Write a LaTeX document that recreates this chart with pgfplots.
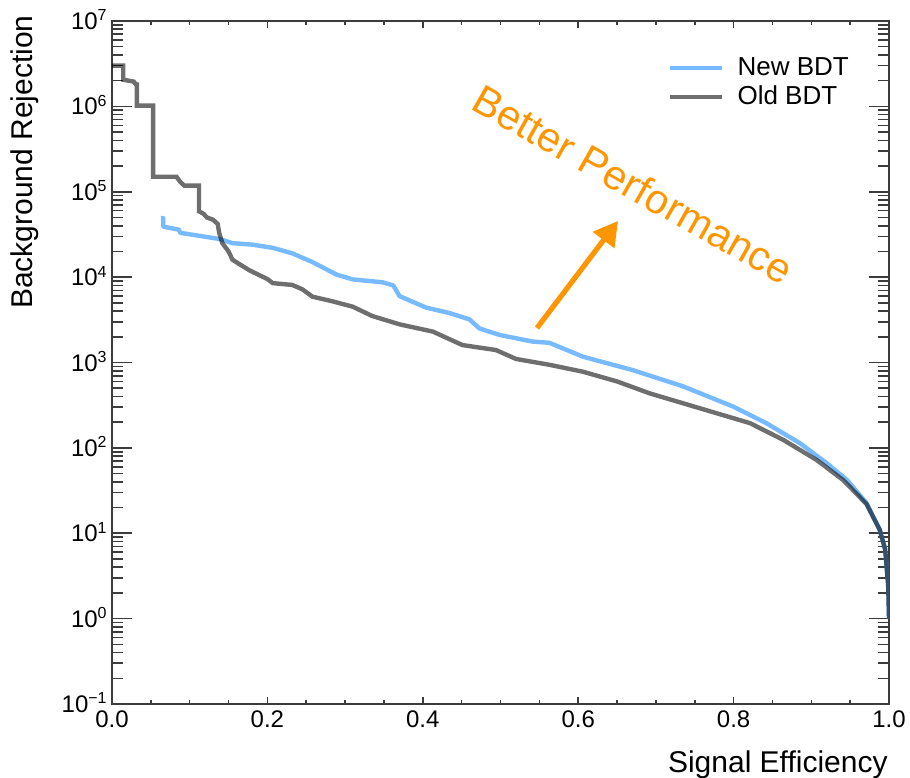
\documentclass[border=0pt]{standalone}
\usepackage{pgfplots}
\pgfplotsset{compat=1.18}
\usepackage{fontspec}
\setmainfont{Liberation Sans}
\usetikzlibrary{arrows.meta}
\definecolor{newbdt}{RGB}{120,186,255}
\definecolor{perf}{RGB}{255,150,0}
\definecolor{axgray}{RGB}{60,60,60}
\begin{document}
\begin{tikzpicture}
\useasboundingbox (-56pt,-36.5pt) rectangle (399pt,352pt);
\begin{axis}[
  scale only axis, width=388.5pt, height=341.5pt,
  at={(0pt,0pt)}, anchor=south west,
  xmin=0, xmax=1, ymode=log, ymin=0.1, ymax=1e7,
  xtick={0,0.2,0.4,0.6,0.8,1},
  xticklabels={0.0,0.2,0.4,0.6,0.8,1.0},
  minor x tick num=3,
  ytick={0.1,1,10,100,1000,10000,100000,1000000,10000000},
  yticklabels={10\textsuperscript{−1},10\textsuperscript{0},10\textsuperscript{1},10\textsuperscript{2},10\textsuperscript{3},10\textsuperscript{4},10\textsuperscript{5},10\textsuperscript{6},10\textsuperscript{7}},
  minor ytick={0.2,0.3,0.4,0.5,0.6,0.7,0.8,0.9,
    2,3,4,5,6,7,8,9,
    20,30,40,50,60,70,80,90,
    200,300,400,500,600,700,800,900,
    2000,3000,4000,5000,6000,7000,8000,9000,
    20000,30000,40000,50000,60000,70000,80000,90000,
    200000,300000,400000,500000,600000,700000,800000,900000,
    2000000,3000000,4000000,5000000,6000000,7000000,8000000,9000000},
  tick align=inside,
  axis line style={axgray, line width=0.8pt},
  every tick/.style={axgray, line width=0.8pt},
  major tick length=10pt, minor tick length=5.5pt,
  xtick style={/pgfplots/major tick length=3.5pt, /pgfplots/minor tick length=2pt},
  tick label style={font=\fontsize{12}{14}\selectfont},
  xticklabel style={inner sep=2pt, yshift=-1pt},
  yticklabel style={anchor=base east, inner sep=2pt, yshift=-4.3pt},
  legend style={at={(axis description cs:0.715,0.91)}, anchor=west, draw=none, fill=none,
    inner sep=0pt, row sep=0.6pt, font=\fontsize{13}{15}\selectfont,
    nodes={inner sep=1.6pt},
    /tikz/every odd column/.append style={column sep=5pt}},
  legend cell align=left,
  legend image code/.code={\draw[#1] (0pt,0pt) -- (26pt,0pt);},
]
\addplot[newbdt, line width=2.2pt, line join=round] coordinates {
(0.063,4.9e4)(0.066,4.9e4)(0.066,3.9e4)(0.086,3.6e4)(0.088,3.3e4)(0.138,2.8e4)
(0.155,2.5e4)(0.181,2.4e4)(0.207,2.2e4)(0.232,1.9e4)(0.258,1.5e4)(0.289,1.07e4)
(0.310,9.4e3)(0.348,8.7e3)(0.362,8.0e3)(0.370,6.0e3)(0.404,4.4e3)(0.434,3.8e3)
(0.460,3.2e3)(0.473,2.5e3)(0.499,2.1e3)(0.541,1.76e3)(0.563,1.7e3)(0.606,1.17e3)
(0.670,815)(0.735,525)(0.800,303)(0.842,195)(0.885,114)(0.920,66)(0.946,42)
(0.971,22.6)(0.988,11)(0.995,6.5)(0.999,2.4)(1.0,1.0)
};
\addlegendentry{New BDT}
\addplot[black, draw opacity=0.57, line width=2.2pt] coordinates {
(0,3.0e6)(0.0145,3.0e6)(0.0145,2.05e6)(0.028,1.95e6)(0.031,1.8e6)(0.032,1.8e6)
(0.032,1.02e6)(0.053,1.02e6)(0.053,1.5e5)(0.083,1.5e5)(0.088,1.3e5)(0.093,1.18e5)
(0.112,1.18e5)(0.112,5.9e4)(0.118,5.5e4)(0.122,5.0e4)(0.130,4.7e4)(0.136,4.2e4)
(0.138,3.3e4)(0.142,2.5e4)(0.150,2.0e4)(0.155,1.6e4)(0.165,1.4e4)(0.177,1.2e4)
(0.190,1.05e4)(0.200,9.5e3)(0.207,8.5e3)(0.232,8.1e3)(0.245,7.2e3)(0.258,5.9e3)
(0.284,5.2e3)(0.310,4.5e3)(0.335,3.5e3)(0.370,2.8e3)(0.413,2.3e3)(0.451,1.6e3)
(0.494,1.4e3)(0.520,1.1e3)(0.563,940)(0.606,780)(0.650,600)(0.692,435)(0.756,292)
(0.821,195)(0.864,124)(0.907,72)(0.941,42)(0.971,22)(0.988,11)(0.995,6.5)(0.999,2.4)(1.0,1.0)
};
\addlegendentry{Old BDT}
\end{axis}
\node[rotate=90, anchor=base east, inner sep=0pt, font=\fontsize{15}{17}\selectfont] at (-39.5pt,344.5pt) {Background Rejection};
\node[anchor=base east, inner sep=0pt, font=\fontsize{15}{17}\selectfont] at (388pt,-34pt) {Signal Efficiency};
\node[rotate=-29.5, anchor=base, inner sep=0pt, text=perf, font=\fontsize{20.7}{24}\selectfont] at (257pt,253.5pt) {Better Performance};
\draw[perf, line width=2.6pt, -{Triangle[length=12pt,width=13pt]}] (212.5pt,188pt) -- (253pt,241.5pt);
\end{tikzpicture}
\end{document}
